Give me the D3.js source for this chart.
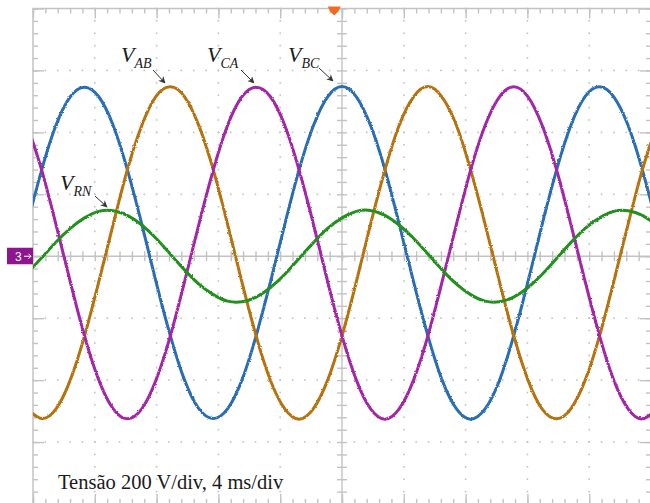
<!DOCTYPE html>
<html>
<head>
<meta charset="utf-8">
<script src="https://cdn.jsdelivr.net/npm/d3@7"></script>
<style>
  html, body { margin: 0; padding: 0; background: #fff; }
  svg { display: block; }
</style>
</head>
<body>
<svg id="scope" width="650" height="503"></svg>
<script>
// Sample instants of the acquisition (ms, trigger point at 0)
const timeMs = [-20.37, -19.44, -18.52, -17.59, -16.67, -15.74, -14.81, -13.89, -12.96, -12.04,
  -11.11, -10.19, -9.26, -8.33, -7.41, -6.48, -5.56, -4.63, -3.70, -2.78, -1.85, -0.93, 0,
  0.93, 1.85, 2.78, 3.70, 4.63, 5.56, 6.48, 7.41, 8.33, 9.26, 10.19, 11.11, 12.04, 12.96,
  13.89, 14.81, 15.74, 16.67, 17.59, 18.52, 19.44, 20.37];

// Line voltages (V)
const vAB = [-493, -524, -494, -400, -258, -82, 104, 280, 422, 516,
  547, 515, 421, 279, 104, -83, -257, -401, -493, -526, -492, -400, -257, -82, 104, 279, 423, 515,
  548, 514, 422, 278, 104, -82, -256, -400, -494, -525, -493, -400, -257, -81, 104, 279, 422];
const vBC = [104, 279, 422, 515,
  546, 515, 422, 279, 104, -82, -257, -400, -493, -524, -493, -400, -257, -82, 104, 279, 422, 515,
  548, 515, 422, 280, 104, -82, -257, -400, -493, -526, -493, -401, -257, -82, 104, 279, 422, 516,
  547, 515, 422, 279, 104];
const vCA = [422, 279, 104, -82, -257, -400, -493, -525, -493, -400, -257, -82, 104, 279, 422, 515,
  546, 515, 422, 279, 104, -82, -257, -400, -493, -526, -493, -400, -257, -82, 104, 279, 422, 515,
  547, 515, 422, 279, 104, -82, -257, -400, -493, -525, -493];
// Phase voltage
const vRN = [-55, -5, 45, 90,
  124, 145, 147, 132, 101, 58, 7, -44, -90, -124, -145, -147, -132, -101, -58, -7, 44, 90,
  124, 145, 148, 132, 101, 58, 7, -44, -90, -124, -145, -147, -132, -101, -58, -7, 44, 90,
  124, 145, 147, 132, 101];

const traceColors = { vBC: "#2a6db2", vAB: "#b5720f", vCA: "#a325a6", vRN: "#23901f" };
const caption = "Tensão 200 V/div, 4 ms/div";
const triggerMs = -0.5;

// Graticule: 10 x 8 divisions, 4 ms/div and 200 V/div
const timeDivs = d3.range(-20, 20.001, 4);
const voltDivs = d3.range(-800, 800.001, 200);
const timeMinor = d3.range(-20, 20.001, 0.8);
const voltMinor = d3.range(-800, 800.001, 40);

const svg = d3.select("#scope");
const x = d3.scaleLinear().domain([-20, 20]).range([33, 651]);
const y = d3.scaleLinear().domain([-800, 800]).range([504, 8.5]);

const gridColor = "#c3c3c3";

// dotted division lines
const dots = svg.append("g").attr("fill", "#c2c2c2");
timeDivs.filter(t => t !== 0 && Math.abs(t) < 20).forEach(t => {
  voltMinor.forEach(v => dots.append("rect")
    .attr("x", x(t) - 0.8).attr("y", y(v) - 0.8).attr("width", 1.6).attr("height", 1.6));
});
voltDivs.filter(v => v !== 0 && Math.abs(v) < 800).forEach(v => {
  timeMinor.forEach(t => dots.append("rect")
    .attr("x", x(t) - 0.8).attr("y", y(v) - 0.8).attr("width", 1.6).attr("height", 1.6));
});

// frame
svg.append("rect")
  .attr("x", x(-20)).attr("y", y(800))
  .attr("width", x(20) - x(-20)).attr("height", y(-800) - y(800))
  .attr("fill", "none").attr("stroke", gridColor).attr("stroke-width", 1.5);

// tick marks on frame and centre lines via d3 axes
function tickAxis(axisGen, values, size, transform) {
  const g = svg.append("g").attr("transform", transform)
    .call(axisGen.tickValues(values).tickSize(size).tickFormat(""));
  g.select(".domain").remove();
  g.selectAll("line").attr("stroke", gridColor).attr("stroke-width", 1.4);
  return g;
}
tickAxis(d3.axisBottom(x), timeMinor, 5, `translate(0,${y(800)})`);
tickAxis(d3.axisBottom(x), timeDivs, 10, `translate(0,${y(800)})`);
tickAxis(d3.axisTop(x), timeMinor, 5, `translate(0,${y(-800)})`);
tickAxis(d3.axisTop(x), timeDivs, 10, `translate(0,${y(-800)})`);
tickAxis(d3.axisRight(y), voltMinor, 5, `translate(${x(-20)},0)`);
tickAxis(d3.axisRight(y), voltDivs, 11, `translate(${x(-20)},0)`);
tickAxis(d3.axisLeft(y), voltMinor, 5, `translate(${x(20)},0)`);
tickAxis(d3.axisLeft(y), voltDivs, 11, `translate(${x(20)},0)`);

// centre cross with ticks
svg.append("line").attr("x1", x(0)).attr("x2", x(0)).attr("y1", y(800)).attr("y2", y(-800))
  .attr("stroke", gridColor).attr("stroke-width", 1.4);
svg.append("line").attr("x1", x(-20)).attr("x2", x(20)).attr("y1", y(0)).attr("y2", y(0))
  .attr("stroke", gridColor).attr("stroke-width", 1.4);
tickAxis(d3.axisRight(y), voltMinor, 10, `translate(${x(0) - 5},0)`);
tickAxis(d3.axisBottom(x), timeMinor, 10, `translate(0,${y(0) - 5})`);

// traces
const defs = svg.append("defs");
defs.append("clipPath").attr("id", "screen").append("rect")
  .attr("x", x(-20)).attr("y", y(800)).attr("width", x(20) - x(-20)).attr("height", y(-800) - y(800));
const flt = defs.append("filter").attr("id", "grain")
  .attr("x", "-5%").attr("y", "-5%").attr("width", "110%").attr("height", "110%");
flt.append("feTurbulence").attr("type", "fractalNoise").attr("baseFrequency", 0.8)
  .attr("numOctaves", 1).attr("seed", 4).attr("result", "n");
flt.append("feDisplacementMap").attr("in", "SourceGraphic").attr("in2", "n")
  .attr("scale", 2.6).attr("xChannelSelector", "R").attr("yChannelSelector", "G");

const line = d3.line().x((d, i) => x(timeMs[i])).y(d => y(d)).curve(d3.curveNatural);
const traces = svg.append("g").attr("clip-path", "url(#screen)")
  .append("g").attr("filter", "url(#grain)");
[["vBC", vBC], ["vAB", vAB], ["vCA", vCA], ["vRN", vRN]].forEach(([k, vals]) => {
  traces.append("path").datum(vals).attr("d", line)
    .attr("fill", "none").attr("stroke", traceColors[k])
    .attr("stroke-width", 3).attr("stroke-linejoin", "round");
});

// trigger marker
const tx = x(triggerMs);
svg.append("path")
  .attr("d", `M${tx - 6.5},${y(800) - 2} L${tx + 6.5},${y(800) - 2} L${tx + 4},${y(800) + 3} L${tx},${y(800) + 7} L${tx - 4},${y(800) + 3} Z`)
  .attr("fill", "#f06a24");

// channel 3 ground marker
const cg = svg.append("g");
cg.append("rect").attr("x", 7).attr("y", y(0) - 8.5).attr("width", 26).attr("height", 16.5)
  .attr("fill", "#8e1490");
cg.append("text").attr("x", 15).attr("y", y(0) + 4.5).text("3")
  .attr("font-family", "Liberation Sans, Arial, sans-serif").attr("font-size", 12).attr("fill", "#fff");
cg.append("path").attr("d", `M24,${y(0)} L31,${y(0)} M28.5,${y(0) - 2.5} L31,${y(0)} L28.5,${y(0) + 2.5}`)
  .attr("stroke", "#fff").attr("stroke-width", 1).attr("fill", "none");

// signal labels with pointer arrows
defs.append("marker").attr("id", "head").attr("viewBox", "0 0 10 10")
  .attr("refX", 9).attr("refY", 5).attr("markerWidth", 7).attr("markerHeight", 7)
  .attr("orient", "auto")
  .append("path").attr("d", "M0,0 L10,5 L0,10 L3,5 Z").attr("fill", "#333");

const labels = [
  { main: "V", sub: "AB", x: 121, y: 62, arrow: [153, 70, 165, 83] },
  { main: "V", sub: "CA", x: 207, y: 62, arrow: [241, 70, 254, 83] },
  { main: "V", sub: "BC", x: 288, y: 62, arrow: [319, 68, 333, 81] },
  { main: "V", sub: "RN", x: 60, y: 190, arrow: [95, 196, 107, 207] }
];
labels.forEach(l => {
  const t = svg.append("text").attr("x", l.x).attr("y", l.y)
    .attr("font-family", "Liberation Serif, 'Times New Roman', serif")
    .attr("font-style", "italic").attr("fill", "#1a1a1a");
  t.append("tspan").attr("font-size", 22).text(l.main);
  t.append("tspan").attr("font-size", 14).attr("dy", 6).attr("dx", 0).text(l.sub);
  svg.append("line").attr("x1", l.arrow[0]).attr("y1", l.arrow[1])
    .attr("x2", l.arrow[2]).attr("y2", l.arrow[3])
    .attr("stroke", "#333").attr("stroke-width", 1).attr("marker-end", "url(#head)");
});

// scale caption
svg.append("text").attr("x", 58).attr("y", 489).text(caption)
  .attr("font-family", "Liberation Serif, 'Times New Roman', serif")
  .attr("font-size", 20.5).attr("fill", "#1a1a1a");
</script>
</body>
</html>
